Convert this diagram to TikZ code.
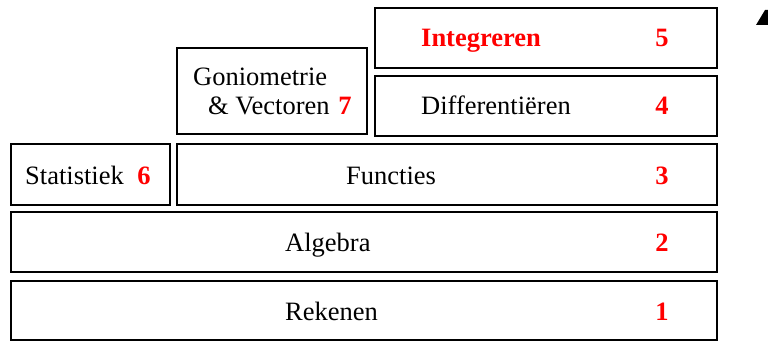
\documentclass[tikz,border=0pt]{standalone}
\usepackage{fontspec}
\setmainfont{Liberation Serif}
\definecolor{numred}{RGB}{255,0,0}
\begin{document}
\begin{tikzpicture}[x=1pt,y=-1pt,
  blk/.style={draw=black,line width=2pt},
  lbl/.style={anchor=base west,inner sep=0pt,font=\fontsize{26.5}{30}\selectfont},
  num/.style={anchor=base,inner sep=0pt,text=numred,font=\fontsize{26.5}{30}\selectfont\bfseries}]
\useasboundingbox (0,0) rectangle (768,342);
% boxes
\draw[blk] (11,281) rectangle (717,340);
\draw[blk] (11,212) rectangle (717,272);
\draw[blk] (11,144) rectangle (170,205);
\draw[blk] (177,144) rectangle (717,205);
\draw[blk] (177,48) rectangle (367,134);
\draw[blk] (375,76) rectangle (717,136);
\draw[blk] (375,8) rectangle (717,68);
% labels
\node[lbl] (trek) at (285,320) {Rekenen};
\node[num] (n1) at (662,320) {1};
\node[lbl] (talg) at (285,251) {Algebra};
\node[num] (n2) at (662,251) {2};
\node[lbl] (tfun) at (346,184) {Functies};
\node[num] (n3) at (662,184) {3};
\node[lbl] (tsta) at (25,184) {Statistiek};
\node[num] (n6) at (144,184) {6};
\node[lbl] (tgon) at (193,86) {Goniometrie};
\node[lbl] (tvec) at (208,115) {\&~Vectoren};
\node[num] (n7) at (345,115) {7};
\node[lbl] (tdif) at (421,114) {Differentiëren};
\node[num] (n4) at (662,114) {4};
\node[lbl,text=numred,font=\fontsize{26.5}{30}\selectfont\bfseries] (tint) at (421,47) {Integreren};
\node[num] (n5) at (662,47) {5};
% cut-off triangle at top right
\fill[black] (756,25) -- (765,10) -- (768,10) -- (768,25) -- cycle;
\end{tikzpicture}
\end{document}
